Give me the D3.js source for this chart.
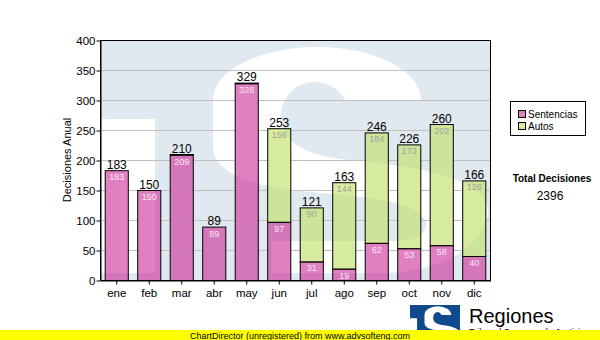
<!DOCTYPE html>
<html>
<head>
<meta charset="utf-8">
<script src="https://cdn.jsdelivr.net/npm/d3@7"></script>
<style>
  html, body { margin: 0; padding: 0; background: #fff; }
  svg { display: block; font-family: "Liberation Sans", Arial, sans-serif; }
</style>
</head>
<body>
<svg id="chart" width="600" height="340"></svg>
<script>
// ---- data ----
const months = ["ene", "feb", "mar", "abr", "may", "jun", "jul", "ago", "sep", "oct", "nov", "dic"];
const sentencias = [183, 150, 209, 89, 328, 97, 31, 19, 62, 53, 58, 40];
const autos = [0, 0, 1, 0, 1, 156, 90, 144, 184, 173, 202, 126];
const seriesNames = ["Sentencias", "Autos"];
const yTicks = [0, 50, 100, 150, 200, 250, 300, 350, 400];
const yTitle = "Decisiones Anual";
const totalTitle = "Total Decisiones";
const brandName = "Regiones";
const brandSub = "Tribunal Supremo de Justicia";
const footer = "ChartDirector (unregistered) from www.advsofteng.com";

// ---- styling ----
const colors = { Sentencias: "rgb(203,43,150)", Autos: "rgb(190,223,97)" };
const swatch = { Sentencias: "#e080c0", Autos: "#d8eca0" };
const labelColor = { Sentencias: "#fde6f3", Autos: "#a0a39a" };
const barAlpha = 0.6;

const svg = d3.select("#chart");
const plot = { left: 100, top: 40, right: 490, bottom: 280 };
const pw = plot.right - plot.left, ph = plot.bottom - plot.top;

const x = d3.scaleBand().domain(months).range([plot.left, plot.right])
  .paddingInner(0.29).paddingOuter(0.145);
const y = d3.scaleLinear().domain([0, 400]).range([plot.bottom, plot.top]);

const rows = months.map((m, i) => ({ month: m, Sentencias: sentencias[i], Autos: autos[i] }));
const stacked = d3.stack().keys(seriesNames)(rows);
const totals = rows.map(r => r.Sentencias + r.Autos);
const segments = stacked.flatMap(layer => layer.map(v => ({ v, key: layer.key })))
  .filter(d => d.v[1] - d.v[0] > 0);

// ---- emblem outline, drawn in a 390 x 240 box ----
const emblemPath =
  "M321,60 A104,53 0 0 0 113,60 L113,106 " +
  "C113,146 190,150 262,157 C322,163 334,182 322,194 C312,203 290,201 270,201 " +
  "L172,201 L172,233 L282,233 " +
  "A106,63 0 0 0 388,170 C388,140 320,126 250,120 C200,115 181,100 181,75 " +
  "A34,34 0 0 1 245,60 Z " +
  "M0,79 L55,79 L55,233 L0,233 Z";

const defs = svg.append("defs");
defs.append("clipPath").attr("id", "plotClip")
  .append("rect").attr("x", plot.left).attr("y", plot.top).attr("width", pw).attr("height", ph);
defs.append("clipPath").attr("id", "barClip").selectAll("rect").data(segments).join("rect")
  .attr("x", d => x(d.v.data.month) + 0.5)
  .attr("y", d => y(d.v[1]) + 0.5)
  .attr("width", x.bandwidth())
  .attr("height", d => y(d.v[0]) - y(d.v[1]));

// plot background: light panel with the white emblem
function drawBackdrop(g) {
  g.append("rect").attr("x", plot.left).attr("y", plot.top).attr("width", pw).attr("height", ph)
    .attr("fill", "#e0e8f0");
  g.append("g").attr("clip-path", "url(#plotClip)")
    .append("path")
    .attr("d", emblemPath)
    .attr("transform", `translate(${plot.left},${plot.top}) scale(${pw / 390},${ph / 240})`)
    .attr("fill", "#fff");
}
drawBackdrop(svg.append("g"));

// ---- grid lines ----
svg.append("g").selectAll("line").data(yTicks.filter(t => t > 0 && t < 400)).join("line")
  .attr("x1", plot.left).attr("x2", plot.right)
  .attr("y1", d => y(d) + 0.5).attr("y2", d => y(d) + 0.5)
  .attr("stroke", "#c0c0c0").attr("stroke-width", 1);

// backdrop repeated under the bars so grid lines stay behind them
drawBackdrop(svg.append("g").attr("clip-path", "url(#barClip)"));

// ---- stacked bars ----
svg.append("g").selectAll("rect").data(segments).join("rect")
  .attr("x", d => x(d.v.data.month) + 0.5)
  .attr("y", d => y(d.v[1]) + 0.5)
  .attr("width", x.bandwidth())
  .attr("height", d => y(d.v[0]) - y(d.v[1]))
  .attr("fill", d => colors[d.key]).attr("fill-opacity", barAlpha)
  .attr("stroke", "#000").attr("stroke-width", 1);

// segment value labels
svg.append("g").selectAll("text").data(segments.filter(d => d.v[1] - d.v[0] >= 5)).join("text")
  .attr("x", d => x(d.v.data.month) + x.bandwidth() / 2 + 0.5)
  .attr("y", d => y(d.v[1]) + 10)
  .attr("text-anchor", "middle")
  .attr("font-size", "9px")
  .attr("fill", d => labelColor[d.key])
  .text(d => d.v[1] - d.v[0]);

// total labels
svg.append("g").selectAll("text").data(rows).join("text")
  .attr("x", d => x(d.month) + x.bandwidth() / 2 + 0.5)
  .attr("y", (d, i) => y(totals[i]) - 1.5)
  .attr("text-anchor", "middle")
  .attr("font-size", "12px")
  .attr("fill", "#000")
  .text((d, i) => totals[i]);

// ---- frame and axes ----
svg.append("rect").attr("x", plot.left + 0.5).attr("y", plot.top + 0.5)
  .attr("width", pw).attr("height", ph)
  .attr("fill", "none").attr("stroke", "#000");

const yAxis = svg.append("g").attr("transform", `translate(${plot.left + 0.5},0.5)`)
  .call(d3.axisLeft(y).tickValues(yTicks).tickSize(4).tickSizeOuter(0).tickPadding(1));
yAxis.selectAll("text").attr("font-size", "11.5px").attr("font-family", "Liberation Sans, Arial, sans-serif").attr("fill", "#000");
yAxis.select(".domain").attr("stroke", "#000");

const xAxis = svg.append("g").attr("transform", `translate(0.5,${plot.bottom + 0.5})`)
  .call(d3.axisBottom(x).tickSize(4).tickSizeOuter(0).tickPadding(4));
xAxis.selectAll("text").attr("font-size", "11.5px").attr("font-family", "Liberation Sans, Arial, sans-serif").attr("fill", "#000");
xAxis.select(".domain").attr("stroke", "#000");

svg.append("text")
  .attr("transform", `translate(71,${(plot.top + plot.bottom) / 2}) rotate(-90)`)
  .attr("text-anchor", "middle").attr("font-size", "11px").attr("fill", "#000")
  .text(yTitle);

// ---- legend ----
const legend = svg.append("g");
legend.append("rect").attr("x", 510.5).attr("y", 101.5).attr("width", 75).attr("height", 34)
  .attr("fill", "#fff").attr("stroke", "#000");
seriesNames.forEach((name, i) => {
  legend.append("rect").attr("x", 518.5).attr("y", 110.5 + i * 12).attr("width", 7).attr("height", 7)
    .attr("fill", swatch[name]).attr("stroke", "#000");
  legend.append("text").attr("x", 528).attr("y", 118 + i * 12)
    .attr("font-size", "10px").attr("fill", "#000").text(name);
});

// ---- grand total ----
svg.append("text").attr("x", 552).attr("y", 182).attr("text-anchor", "middle")
  .attr("font-size", "10px").attr("font-weight", "bold").text(totalTitle);
svg.append("text").attr("x", 550).attr("y", 200).attr("text-anchor", "middle")
  .attr("font-size", "12px").text(d3.sum(totals));

// ---- brand ----
svg.append("rect").attr("x", 410).attr("y", 305).attr("width", 50).attr("height", 40).attr("fill", "#0f4a8c");
defs.append("clipPath").attr("id", "logoClip")
  .append("rect").attr("x", 410).attr("y", 305).attr("width", 50).attr("height", 40);
svg.append("g").attr("clip-path", "url(#logoClip)")
  .append("path").attr("d", emblemPath)
  .attr("transform", `translate(410,305) scale(${50 / 390},${40 / 240})`)
  .attr("fill", "#fff");
svg.append("text").attr("x", 469).attr("y", 323).attr("font-size", "20px").attr("fill", "#000").text(brandName);
svg.append("text").attr("x", 469).attr("y", 335).attr("font-size", "9px").attr("fill", "#000").text(brandSub);

// ---- footer ----
svg.append("rect").attr("x", 0).attr("y", 330).attr("width", 600).attr("height", 10).attr("fill", "#ffff00");
svg.append("text").attr("x", 190).attr("y", 338.5).attr("font-size", "9px").attr("fill", "#000").text(footer);
</script>
</body>
</html>
